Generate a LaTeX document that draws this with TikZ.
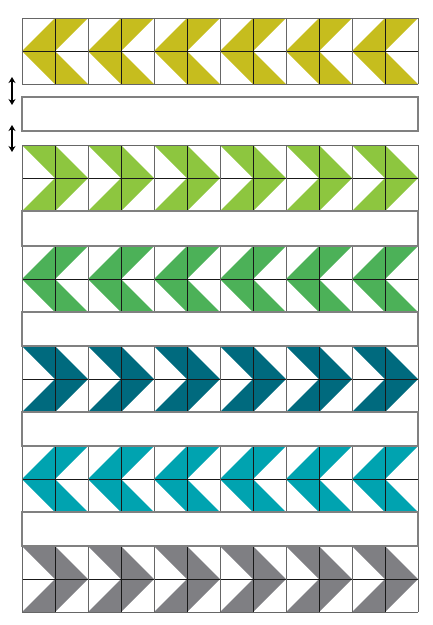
\documentclass[tikz,border=0pt]{standalone}
\usepackage{tikz}
\usetikzlibrary{arrows.meta}

\definecolor{chevYellow}{HTML}{C6BD1E}
\definecolor{chevLime}{HTML}{8DC63F}
\definecolor{chevGreen}{HTML}{4CB158}
\definecolor{chevTeal}{HTML}{006A7E}
\definecolor{chevCyan}{HTML}{00A3B0}
\definecolor{chevGrey}{HTML}{7F7F83}

\begin{document}
\begin{tikzpicture}[x=1pt,y=-1pt]
	\tikzstyle{cell}=[draw=black!90,line width=0.9pt]
	\tikzstyle{block}=[draw=black!60,line width=1pt]
	\tikzstyle{strip}=[draw=black!50,line width=1.3pt,fill=white]
	\tikzstyle{arr}=[{Stealth[length=6pt,width=7pt]}-{Stealth[length=6pt,width=7pt]},line width=1.3pt]
	\useasboundingbox (0,0) rectangle (432,625);
		% chevrons pointing left
		\foreach \y/\col in {18/chevYellow,246/chevGreen,446/chevCyan}
			\foreach \i in {0,...,5}{
				\pgfmathsetmacro{\x}{22+66*\i}
				\fill[\col] (\x+33,\y) -- (\x+66,\y) -- (\x+33,\y+33) -- (\x+66,\y+66) -- (\x+33,\y+66) -- (\x,\y+33) -- cycle;
			}
		% chevrons pointing right
		\foreach \y/\col in {145/chevLime,346/chevTeal,546/chevGrey}
			\foreach \i in {0,...,5}{
				\pgfmathsetmacro{\x}{22+66*\i}
				\fill[\col] (\x,\y) -- (\x+33,\y) -- (\x+66,\y+33) -- (\x+33,\y+66) -- (\x,\y+66) -- (\x+33,\y+33) -- cycle;
			}
		% seams
		\foreach \y in {18,145,246,346,446,546}{
			\draw[cell] (22,\y+33) -- (418,\y+33);
			\foreach \i in {0,...,5}
				\draw[cell] (55+66*\i,\y) -- (55+66*\i,\y+66);
			\foreach \i in {0,...,6}
				\draw[block] (22+66*\i,\y) -- (22+66*\i,\y+66);
			\draw[block] (22,\y) -- (418,\y) (22,\y+66) -- (418,\y+66);
		}
		% sashing strips
		\foreach \y/\h in {97/34,211/35,312/34,412/34,512/34}
			\draw[strip] (22,\y) rectangle (418,\y+\h);
		% spacing arrows
		\coordinate (a1) at (12,77);
		\coordinate (b1) at (12,105);
		\coordinate (a2) at (12,125);
		\coordinate (b2) at (12,152);
			\draw[arr] (a1) -- (b1);
			\draw[arr] (a2) -- (b2);
\end{tikzpicture}
\end{document}
